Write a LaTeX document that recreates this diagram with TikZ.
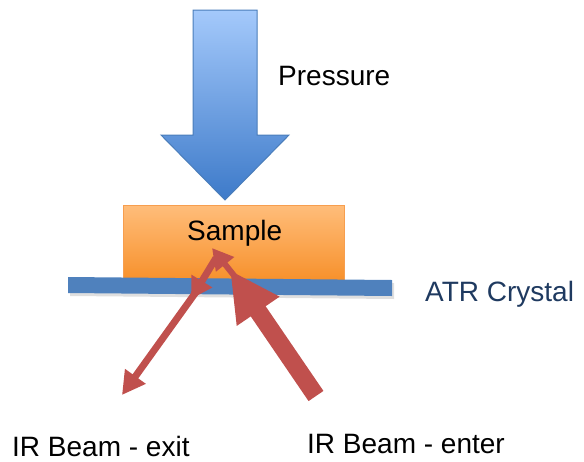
\documentclass[tikz,border=0pt]{standalone}
\usepackage{fontspec}
\setmainfont{Liberation Sans}
\usetikzlibrary{arrows.meta}
\definecolor{beamred}{HTML}{C0504D}
\definecolor{crystalblue}{HTML}{4F81BD}
\definecolor{presstop}{HTML}{A4C9FB}
\definecolor{pressbot}{HTML}{3D7AC9}
\definecolor{pressedge}{HTML}{4A7DBA}
\definecolor{samptop}{HTML}{FFBD7A}
\definecolor{sampbot}{HTML}{F7912C}
\definecolor{sampedge}{HTML}{F79E4E}
\definecolor{atrtext}{HTML}{1F3A60}
\tikzset{
  txt/.style={font=\fontsize{28}{32}\selectfont, inner sep=0pt},
  beam/.style={draw=beamred, line width=7pt},
}
\begin{document}
\begin{tikzpicture}[x=1pt,y=-1pt]
\useasboundingbox (0,0) rectangle (584,461);
% pressure arrow
\shade[top color=presstop, bottom color=pressbot, draw=pressedge, line width=1pt]
  (193,10) -- (257,10) -- (257,135) -- (289,135) -- (225,200) -- (161,135) -- (193,135) -- cycle;
\node[txt, anchor=base west] (pressure) at (278,85) {Pressure};
% sample block
\shade[top color=samptop, bottom color=sampbot, draw=sampedge, line width=0.8pt]
  (123,205) rectangle (344,280);
\node[txt, anchor=base west] (sample) at (187,240) {Sample};
% crystal
\fill[gray, opacity=0.25] (70,280) -- (394,283) -- (394,299) -- (70,296) -- cycle;
\fill[crystalblue] (68,277) -- (392,280) -- (392,296) -- (68,293) -- cycle;
\node[txt, anchor=base west, text=atrtext] (atr) at (425,301) {ATR Crystal};
% beam path
\coordinate (enterfoot) at (316,396);
\coordinate (enterhit) at (230,270);
\coordinate (crossin) at (236,278);
\coordinate (spot) at (212,248);
\coordinate (spotout) at (216,258);
\coordinate (face) at (191,299);
\coordinate (faceout) at (196,292);
\coordinate (exitfoot) at (122,395);
\draw[beam, line width=18pt, -{Triangle[length=50pt,width=48pt]}] (enterfoot) -- (enterhit);
\draw[beam, line width=6pt, -{Triangle[length=21pt,width=22pt]}] (crossin) -- (spot);
\draw[beam, -{Triangle[length=21pt,width=23pt]}] (spotout) -- (face);
\draw[beam, -{Triangle[length=23pt,width=24pt]}] (faceout) -- (exitfoot);
\node[txt, anchor=base west] (exit) at (12,456) {IR Beam - exit};
\node[txt, anchor=base west] (enter) at (307,453) {IR Beam - enter};
\end{tikzpicture}
\end{document}
